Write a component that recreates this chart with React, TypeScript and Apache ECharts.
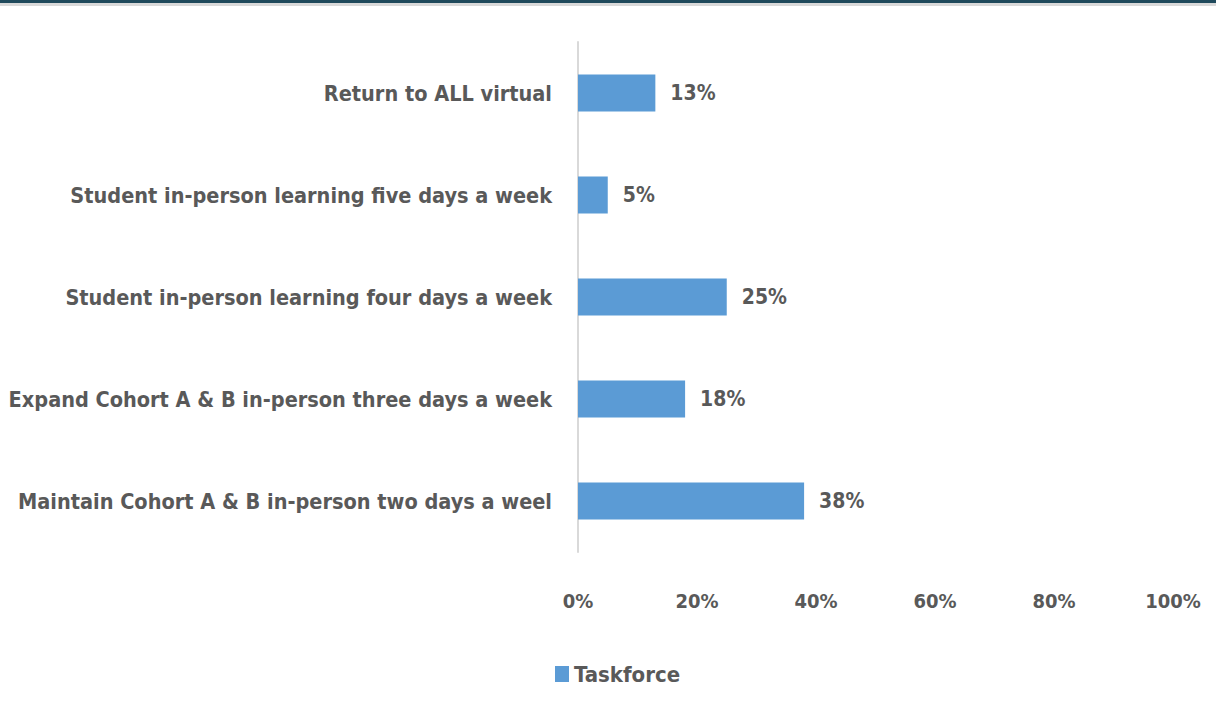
import React, { useEffect, useRef } from "react";
import * as echarts from "echarts";

const categories = [
  "Maintain Cohort A & B in-person two days a weel",
  "Expand Cohort A & B in-person three days a week",
  "Student in-person learning four days a week",
  "Student in-person learning five days a week",
  "Return to ALL virtual",
];
const taskforce = [38, 18, 25, 5, 13];
const seriesName = "Taskforce";

const FONT = "'DejaVu Sans Condensed', 'Liberation Sans Narrow', sans-serif";
const TEXT = "#595959";

export default function App() {
  const ref = useRef<HTMLDivElement>(null);
  useEffect(() => {
    const chart = echarts.init(ref.current!, null, { renderer: "svg" });
    chart.setOption({
      animation: false,
      backgroundColor: "#ffffff",
      graphic: [
        { type: "rect", shape: { x: 0, y: 0, width: 1216, height: 3 }, style: { fill: "#1F4A5C" } },
        { type: "rect", shape: { x: 0, y: 3, width: 1216, height: 3 }, style: { fill: "#D9D9D9" } },
      ],
      grid: { left: 578, right: 43, top: 42, bottom: 175, outerBoundsMode: "none", containLabel: false },
      legend: {
        data: [seriesName],
        bottom: 37,
        left: 550,
        itemWidth: 14,
        itemHeight: 16,
        itemGap: 6,
        icon: "rect",
        textStyle: { fontFamily: FONT, fontWeight: "bold", fontSize: 22, color: TEXT },
      },
      xAxis: {
        type: "value",
        min: 0,
        max: 100,
        interval: 20,
        axisLine: { show: false },
        axisTick: { show: false },
        splitLine: { show: false },
        axisLabel: {
          formatter: "{value}%",
          margin: 39,
          fontFamily: FONT,
          fontWeight: "bold",
          fontSize: 20,
          color: TEXT,
        },
      },
      yAxis: {
        type: "category",
        data: categories,
        axisLine: { show: true, lineStyle: { color: "#D9D9D9", width: 2 } },
        axisTick: { show: false },
        axisLabel: {
          margin: 26,
          fontFamily: FONT,
          fontWeight: "bold",
          fontSize: 21.5,
          color: TEXT,
        },
      },
      series: [
        {
          name: seriesName,
          type: "bar",
          data: taskforce,
          barWidth: 37,
          itemStyle: { color: "#5B9BD5" },
          label: {
            show: true,
            position: "right",
            distance: 15,
            formatter: "{c}%",
            fontFamily: FONT,
            fontWeight: "bold",
            fontSize: 21,
            color: TEXT,
          },
        },
      ],
    });
    return () => chart.dispose();
  }, []);
  return <div ref={ref} style={{ width: 1216, height: 727, position: "absolute", left: 0, top: 0 }} />;
}
